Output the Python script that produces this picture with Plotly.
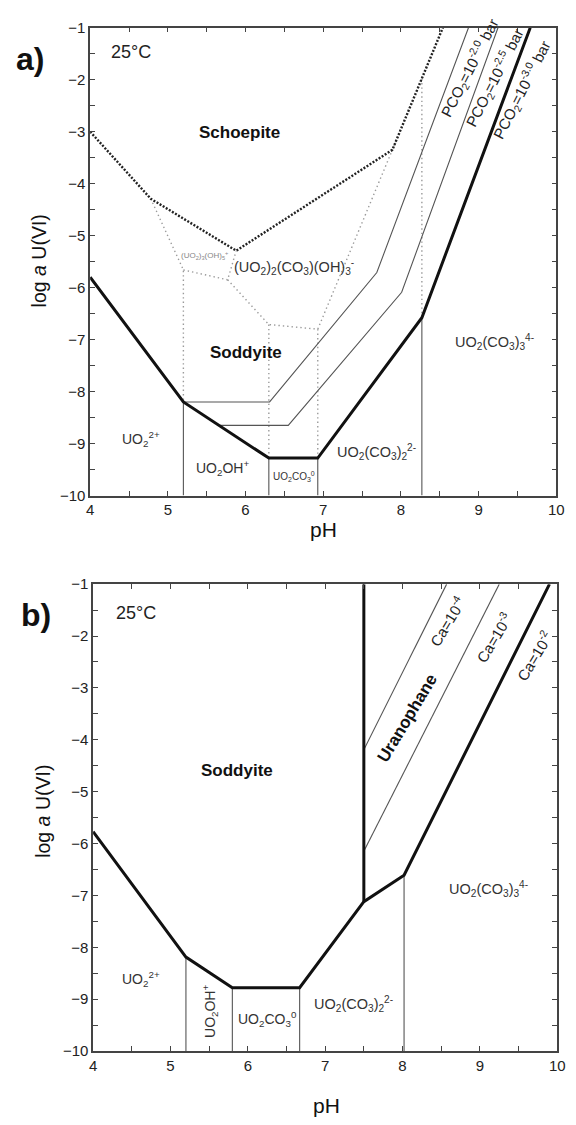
import plotly.graph_objects as go

FONT = "Liberation Sans, Arial, sans-serif"

# ---------------- Panel a data ----------------
a_soddyite_ph = [4.0, 5.2, 6.3, 6.93, 8.27, 9.665]
a_soddyite_logu = [-5.8, -8.2, -9.28, -9.28, -6.58, -1.0]

a_pco2_20_ph = [5.2, 6.31, 7.69, 8.87]
a_pco2_20_logu = [-8.2, -8.2, -5.71, -1.0]

a_pco2_25_ph = [5.66, 6.55, 8.01, 9.25]
a_pco2_25_logu = [-8.65, -8.65, -6.09, -1.0]

a_schoepite_ph = [4.0, 4.78, 5.88, 7.89, 8.54]
a_schoepite_logu = [-3.0, -4.29, -5.29, -3.35, -1.0]

# metastable (grey dotted) boundaries, segments separated by None
a_meta_ph = [4.78, 5.2, 5.2, None,
             5.2, 5.77, 5.88, None,
             5.77, 6.3, 6.93, 7.96, None,
             6.3, 6.3, None,
             6.93, 6.93, None,
             8.27, 8.27]
a_meta_logu = [-4.29, -5.66, -8.2, None,
               -5.66, -5.85, -5.29, None,
               -5.85, -6.71, -6.8, -3.1, None,
               -6.71, -9.28, None,
               -6.8, -9.28, None,
               -1.98, -6.58]

# aqueous species boundaries (thin verticals)
a_vert_ph = [5.2, 6.3, 6.93, 8.27]
a_vert_top = [-8.2, -9.28, -9.28, -6.58]

# ---------------- Panel b data ----------------
b_soddyite_ph = [4.0, 5.2, 5.8, 6.67, 7.5, 8.02, 9.9]
b_soddyite_logu = [-5.77, -8.19, -8.78, -8.78, -7.12, -6.61, -1.0]

b_uranophane_ph = [7.5, 7.5]
b_uranophane_logu = [-7.12, -1.0]

b_ca4_ph = [7.5, 8.57]
b_ca4_logu = [-4.19, -1.0]
b_ca3_ph = [7.5, 9.25]
b_ca3_logu = [-6.15, -1.0]

b_vert_ph = [5.2, 5.8, 6.67, 8.02]
b_vert_top = [-8.19, -8.78, -8.78, -6.61]

x_ticks = [4 + 0.5 * i for i in range(13)]
x_text = [str(int(v)) if v == int(v) else "" for v in x_ticks]
y_ticks = [-10 + 0.5 * i for i in range(19)]
y_text = [("\u2212" + str(int(-v))) if v == int(v) else "" for v in y_ticks]

fig = go.Figure()

THICK = dict(color="#111111", width=3)
THIN = dict(color="#555555", width=1.1)


def vert_segments(xs, tops, bottom=-10.0):
    px, py = [], []
    for x, t in zip(xs, tops):
        px += [x, x, None]
        py += [t, bottom, None]
    return px, py


# ---- panel a traces ----
vx, vy = vert_segments(a_vert_ph, a_vert_top)
fig.add_trace(go.Scatter(x=vx, y=vy, mode="lines", line=THIN, xaxis="x", yaxis="y"))
fig.add_trace(go.Scatter(x=a_meta_ph, y=a_meta_logu, mode="lines",
                         line=dict(color="#9a9a9a", width=1.4, dash="1.4px,3px"), xaxis="x", yaxis="y"))
fig.add_trace(go.Scatter(x=a_schoepite_ph, y=a_schoepite_logu, mode="lines",
                         line=dict(color="#222222", width=2.4, dash="2px,1.6px"), xaxis="x", yaxis="y"))
fig.add_trace(go.Scatter(x=a_pco2_20_ph, y=a_pco2_20_logu, mode="lines", line=THIN, xaxis="x", yaxis="y"))
fig.add_trace(go.Scatter(x=a_pco2_25_ph, y=a_pco2_25_logu, mode="lines", line=THIN, xaxis="x", yaxis="y"))
fig.add_trace(go.Scatter(x=a_soddyite_ph, y=a_soddyite_logu, mode="lines", line=THICK, xaxis="x", yaxis="y"))

# ---- panel b traces ----
vx, vy = vert_segments(b_vert_ph, b_vert_top)
fig.add_trace(go.Scatter(x=vx, y=vy, mode="lines", line=THIN, xaxis="x2", yaxis="y2"))
fig.add_trace(go.Scatter(x=b_ca4_ph, y=b_ca4_logu, mode="lines", line=THIN, xaxis="x2", yaxis="y2"))
fig.add_trace(go.Scatter(x=b_ca3_ph, y=b_ca3_logu, mode="lines", line=THIN, xaxis="x2", yaxis="y2"))
fig.add_trace(go.Scatter(x=b_uranophane_ph, y=b_uranophane_logu, mode="lines", line=THICK, xaxis="x2", yaxis="y2"))
fig.add_trace(go.Scatter(x=b_soddyite_ph, y=b_soddyite_logu, mode="lines", line=THICK, xaxis="x2", yaxis="y2"))

W, H = 576, 1125


def xaxis_cfg():
    return dict(range=[4, 10], tickvals=x_ticks, ticktext=x_text, ticks="inside", ticklen=5,
                tickcolor="#444", tickwidth=1, showline=True, linecolor="#444", linewidth=1.5,
                mirror="ticks", showgrid=False, zeroline=False,
                tickfont=dict(size=15, family=FONT, color="#222"), domain=[88 / W, 564 / W])


def yaxis_cfg(top_px, bot_px):
    return dict(range=[-10, -1], tickvals=y_ticks, ticktext=y_text, ticks="inside", ticklen=5,
                tickcolor="#444", tickwidth=1, showline=True, linecolor="#444", linewidth=1.5,
                mirror="ticks", showgrid=False, zeroline=False,
                tickfont=dict(size=15, family=FONT, color="#222"),
                domain=[1 - bot_px / H, 1 - top_px / H])


xa = xaxis_cfg()
xb = xaxis_cfg()
xb["domain"] = [91 / W, 565 / W]
xb["anchor"] = "y2"
xa["anchor"] = "y"

ann = []


def lab(text, x, y, ref, size=12, color="#333", bold=False, angle=0, xanchor="center"):
    if bold:
        text = "<b>" + text + "</b>"
    xr, yr = ("x", "y") if ref == "a" else ("x2", "y2")
    ann.append(dict(text=text, x=x, y=y, xref=xr, yref=yr, showarrow=False,
                    font=dict(size=size, family=FONT, color=color), textangle=angle,
                    xanchor=xanchor, yanchor="middle"))


# panel a labels
lab("25°C", 4.24, -1.47, "a", size=18, color="#222", xanchor="left")
lab("Schoepite", 5.92, -3.01, "a", size=17, color="#111", bold=True)
lab("(UO<sub>2</sub>)<sub>3</sub>(OH)<sub>5</sub><sup>+</sup>", 5.475, -5.38, "a", size=8, color="#888")
lab("(UO<sub>2</sub>)<sub>2</sub>(CO<sub>3</sub>)(OH)<sub>3</sub><sup>-</sup>", 6.62, -5.61, "a", size=14.5, color="#333")
lab("Soddyite", 6.0, -7.24, "a", size=17, color="#111", bold=True)
lab("UO<sub>2</sub><sup>2+</sup>", 4.66, -8.92, "a", size=14)
lab("UO<sub>2</sub>OH<sup>+</sup>", 5.70, -9.47, "a", size=14)
lab("UO<sub>2</sub>CO<sub>3</sub><sup>0</sup>", 6.63, -9.64, "a", size=10)
lab("UO<sub>2</sub>(CO<sub>3</sub>)<sub>2</sub><sup>2-</sup>", 7.68, -9.17, "a", size=14.5)
lab("UO<sub>2</sub>(CO<sub>3</sub>)<sub>3</sub><sup>4-</sup>", 9.2, -7.05, "a", size=14.5)
lab("PCO<sub>2</sub>=10<sup>-2.0</sup> bar", 8.88, -1.76, "a", size=15, color="#222", angle=-63)
lab("PCO<sub>2</sub>=10<sup>-2.5</sup> bar", 9.20, -1.95, "a", size=15, color="#222", angle=-63)
lab("PCO<sub>2</sub>=10<sup>-3.0</sup> bar", 9.55, -2.18, "a", size=15, color="#222", angle=-63)

# panel b labels
lab("25°C", 4.27, -1.55, "b", size=18, color="#222", xanchor="left")
lab("Soddyite", 5.86, -4.59, "b", size=17, color="#111", bold=True)
lab("Uranophane", 8.06, -3.59, "b", size=17, color="#111", bold=True, angle=-59)
lab("Ca=10<sup>-4</sup>", 8.57, -1.72, "b", size=15, color="#222", angle=-59)
lab("Ca=10<sup>-3</sup>", 9.17, -2.02, "b", size=15, color="#222", angle=-59)
lab("Ca=10<sup>-2</sup>", 9.70, -2.38, "b", size=15, color="#222", angle=-59)
lab("UO<sub>2</sub><sup>2+</sup>", 4.62, -8.62, "b", size=14)
lab("UO<sub>2</sub>OH<sup>+</sup>", 5.51, -9.23, "b", size=14, angle=-90)
lab("UO<sub>2</sub>CO<sub>3</sub><sup>0</sup>", 6.25, -9.38, "b", size=14)
lab("UO<sub>2</sub>(CO<sub>3</sub>)<sub>2</sub><sup>2-</sup>", 7.37, -9.10, "b", size=14.5)
lab("UO<sub>2</sub>(CO<sub>3</sub>)<sub>3</sub><sup>4-</sup>", 9.11, -6.87, "b", size=14.5)


def paper(xpx, ypx):
    return xpx / W, 1 - ypx / H


for text, (px, py), size, angle in [
    ("<b>a)</b>", (27, 51), 32, 0),
    ("<b>b)</b>", (33, 615), 32, 0),
    ("pH", (326, 528), 21, 0),
    ("pH", (329, 1113), 21, 0),
    ("log <i>a</i> U(VI)", (36, 256), 19.5, -90),
    ("log <i>a</i> U(VI)", (40, 815), 19.5, -90),
]:
    xp, yp = paper(px, py)
    ann.append(dict(text=text, x=xp, y=yp, xref="paper", yref="paper", showarrow=False,
                    font=dict(size=size, family=FONT, color="#111"), textangle=angle,
                    xanchor="center", yanchor="middle"))

fig.update_layout(
    width=W, height=H, margin=dict(l=0, r=0, t=0, b=0),
    paper_bgcolor="white", plot_bgcolor="white", showlegend=False,
    xaxis=xa, yaxis=yaxis_cfg(19, 494) | dict(anchor="x"),
    xaxis2=xb, yaxis2=yaxis_cfg(584, 1058) | dict(anchor="x2"),
    annotations=ann,
)

fig.write_html("out.html")
